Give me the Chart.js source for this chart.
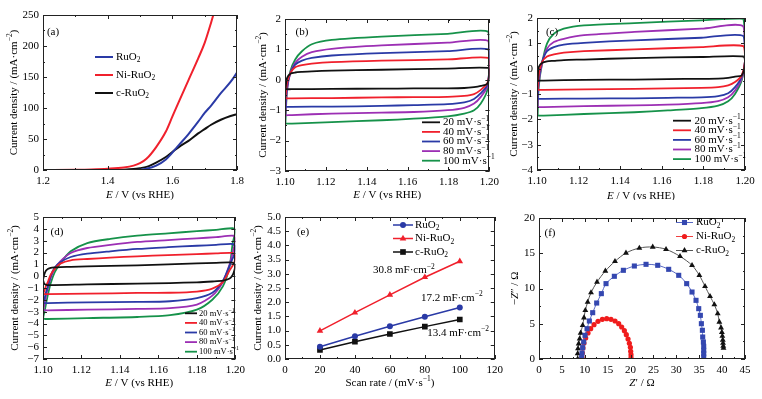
<!DOCTYPE html>
<html>
<head>
<meta charset="utf-8">
<script src="https://cdn.jsdelivr.net/npm/chart.js@4.4.1/dist/chart.umd.min.js"></script>
<style>
body { margin: 0; background: #fff; width: 762px; height: 399px; position: relative; overflow: hidden; }
canvas { position: absolute; }
</style>
</head>
<body>
<canvas id="ca" width="250" height="200" style="left:0;top:0"></canvas>
<canvas id="cb" width="254" height="200" style="left:250px;top:0"></canvas>
<canvas id="cc" width="262" height="200" style="left:500px;top:0"></canvas>
<canvas id="cd" width="250" height="199" style="left:0;top:200px"></canvas>
<canvas id="ce" width="258" height="199" style="left:250px;top:200px"></canvas>
<canvas id="cf" width="262" height="199" style="left:500px;top:200px"></canvas>
<script>
// (a) LSV curves
var aRuO2X = [1.2, 1.4, 1.48, 1.5, 1.52, 1.55, 1.58, 1.6, 1.62, 1.65, 1.68, 1.7, 1.72, 1.75, 1.78, 1.8];
var aRuO2Y = [0, 0, 0, 0.5, 2, 7, 17, 28, 40, 58, 78, 92, 104, 124, 142, 157];
var aNiX = [1.2, 1.3, 1.35, 1.4, 1.45, 1.48, 1.5, 1.52, 1.55, 1.58, 1.6, 1.62, 1.65, 1.68, 1.7, 1.72, 1.73];
var aNiY = [0, 0.5, 1, 2, 4, 7, 11, 18, 37, 62, 86, 110, 145, 180, 205, 238, 256];
var aCX = [1.2, 1.4, 1.45, 1.48, 1.5, 1.52, 1.55, 1.58, 1.6, 1.62, 1.65, 1.68, 1.7, 1.72, 1.75, 1.78, 1.8];
var aCY = [0, 0, 0.5, 1.5, 3, 5, 12, 21, 29, 37, 47, 59, 66, 73, 81, 87, 90];

// (b) CV loops
var bX = [1.1002, 1.101, 1.1026, 1.105, 1.1083, 1.1131, 1.1229, 1.1472, 1.1796, 1.1995, 1.2, 1.199, 1.1958, 1.1925, 1.1877, 1.1796, 1.163, 1.1472, 1.1229, 1.1034, 1.1002];
var b20 = [-0.31, 0.06, 0.2, 0.24, 0.26, 0.28, 0.3, 0.33, 0.37, 0.39, 0.2, -0.13, -0.2, -0.24, -0.27, -0.28, -0.285, -0.29, -0.3, -0.31, -0.31];
var b40 = [-0.61, -0.11, 0.22, 0.41, 0.48, 0.53, 0.58, 0.63, 0.67, 0.72, 0.3, -0.11, -0.33, -0.47, -0.53, -0.56, -0.57, -0.58, -0.6, -0.61, -0.61];
var b60 = [-0.89, -0.22, 0.22, 0.5, 0.63, 0.72, 0.8, 0.88, 0.94, 1.0, 0.4, -0.17, -0.44, -0.63, -0.74, -0.8, -0.83, -0.86, -0.88, -0.89, -0.89];
var b80 = [-1.17, -0.33, 0.22, 0.56, 0.76, 0.91, 1.02, 1.13, 1.22, 1.28, 0.5, -0.22, -0.56, -0.78, -0.92, -1.0, -1.06, -1.08, -1.11, -1.16, -1.17];
var b100 = [-1.44, -0.33, 0.28, 0.67, 0.94, 1.17, 1.31, 1.42, 1.51, 1.58, 0.6, -0.33, -0.78, -1.0, -1.11, -1.2, -1.28, -1.33, -1.39, -1.44, -1.44];

// (c) CV loops
var cX = [1.1003, 1.1008, 1.1024, 1.1048, 1.1081, 1.1129, 1.1226, 1.1468, 1.179, 1.1992, 1.2, 1.1984, 1.1952, 1.1919, 1.1871, 1.179, 1.1629, 1.1468, 1.1226, 1.1032, 1.1003];
var c20 = [-0.47, 0.06, 0.22, 0.29, 0.31, 0.34, 0.36, 0.42, 0.46, 0.48, 0.2, -0.27, -0.31, -0.36, -0.39, -0.4, -0.41, -0.43, -0.44, -0.47, -0.47];
var c40 = [-0.84, -0.27, 0.26, 0.48, 0.56, 0.63, 0.69, 0.76, 0.85, 0.89, 0.3, -0.27, -0.53, -0.66, -0.73, -0.76, -0.78, -0.8, -0.82, -0.84, -0.84];
var c60 = [-1.19, -0.47, 0.26, 0.69, 0.85, 0.95, 1.02, 1.12, 1.22, 1.29, 0.3, -0.33, -0.73, -0.97, -1.08, -1.13, -1.15, -1.17, -1.18, -1.19, -1.19];
var c80 = [-1.52, -0.6, 0.19, 0.79, 1.05, 1.18, 1.32, 1.45, 1.58, 1.67, 0.3, -0.4, -0.86, -1.13, -1.28, -1.36, -1.42, -1.45, -1.48, -1.52, -1.52];
var c100 = [-1.85, -0.73, 0.19, 0.99, 1.38, 1.58, 1.71, 1.8, 1.91, 1.97, 0.3, -0.47, -1.0, -1.29, -1.46, -1.56, -1.65, -1.72, -1.79, -1.85, -1.85];

// (d) CV loops
var dX = [1.1, 1.1008, 1.1015, 1.1025, 1.104, 1.106, 1.109, 1.1144, 1.123, 1.135, 1.149, 1.165, 1.18, 1.19, 1.1985, 1.2, 1.1995, 1.1986, 1.197, 1.1935, 1.188, 1.18, 1.166, 1.149, 1.123, 1.1024, 1.1007, 1.1];
var d20 = [-0.3, 0.2, 0.45, 0.6, 0.7, 0.74, 0.77, 0.79, 0.83, 0.87, 0.92, 1.0, 1.08, 1.13, 1.15, 0.9, 0.5, 0.1, -0.2, -0.38, -0.45, -0.52, -0.58, -0.63, -0.69, -0.75, -0.65, -0.3];
var d40 = [-1.51, -1.2, -0.85, -0.5, 0.13, 0.6, 1.06, 1.34, 1.45, 1.56, 1.68, 1.78, 1.87, 1.92, 1.96, 1.7, 1.2, 0.9, 0.5, -0.5, -1.05, -1.3, -1.4, -1.42, -1.48, -1.51, -1.51, -1.51];
var d60 = [-2.27, -1.9, -1.4, -0.9, 0.0, 0.7, 1.17, 1.62, 1.9, 2.1, 2.3, 2.45, 2.57, 2.65, 2.72, 2.5, 1.9, 1.5, 0.9, -0.4, -1.4, -1.85, -2.12, -2.18, -2.21, -2.27, -2.27, -2.27];
var d80 = [-2.85, -2.4, -1.7, -1.0, -0.15, 0.6, 1.25, 1.96, 2.38, 2.65, 2.89, 3.05, 3.2, 3.3, 3.42, 3.2, 2.6, 2.0, 1.0, -0.5, -1.65, -2.4, -2.7, -2.77, -2.83, -2.89, -2.88, -2.85];
var d100 = [-3.55, -3.0, -2.4, -1.6, -0.6, 0.3, 1.1, 2.1, 2.8, 3.15, 3.42, 3.62, 3.8, 3.92, 4.05, 3.9, 3.4, 2.8, 0.83, -0.86, -1.99, -2.83, -3.3, -3.45, -3.54, -3.62, -3.6, -3.55];

// (e) current density vs scan rate
var eRate = [20, 40, 60, 80, 100];
var eRuO2 = [0.43, 0.8, 1.15, 1.49, 1.81];
var eNi = [0.99, 1.63, 2.26, 2.88, 3.44];
var eC = [0.32, 0.61, 0.88, 1.14, 1.39];
var eNotes = ['30.8 mF·cm^{−2}', '17.2 mF·cm^{−2}', '13.4 mF·cm^{−2}'];

// (f) Nyquist plots
var fRuO2X = [9.32, 9.4, 9.54, 9.76, 10.05, 10.49, 11.0, 11.73, 12.6, 13.62, 14.64, 16.46, 18.43, 20.83, 23.38, 25.93, 28.33, 30.52, 32.26, 33.43, 34.3, 34.89, 35.25, 35.47, 35.69, 35.76, 35.91, 35.98, 35.98, 35.98, 35.98];
var fRuO2Y = [0.19, 0.85, 1.61, 2.41, 3.36, 4.3, 5.39, 6.57, 7.94, 9.27, 10.69, 11.73, 12.58, 13.19, 13.43, 13.29, 12.72, 11.87, 10.69, 9.5, 8.32, 7.14, 6.19, 5.01, 4.07, 3.12, 2.41, 1.8, 1.23, 0.76, 0.28];
var fNiX = [9.4, 9.47, 9.61, 9.83, 10.2, 10.71, 11.29, 12.02, 12.89, 13.84, 14.79, 15.73, 16.61, 17.41, 18.06, 18.65, 19.08, 19.45, 19.74, 19.96, 20.03, 20.1, 20.1];
var fNiY = [0.19, 0.85, 1.56, 2.27, 2.98, 3.69, 4.3, 4.87, 5.34, 5.63, 5.72, 5.63, 5.39, 5.01, 4.54, 4.02, 3.45, 2.84, 2.22, 1.65, 1.09, 0.61, 0.19];
var fCX = [8.45, 8.45, 8.52, 8.67, 8.89, 9.1, 9.54, 9.83, 10.12, 10.63, 11.36, 12.67, 14.49, 16.6, 19.0, 21.92, 24.84, 27.75, 30.81, 33.43, 35.03, 36.27, 37.36, 38.31, 39.04, 39.4, 39.77, 39.95, 40.05, 40.15, 40.2, 40.25, 40.3];
var fCY = [0, 0.76, 1.47, 2.17, 2.88, 3.69, 4.78, 5.86, 6.9, 8.08, 9.41, 10.92, 12.48, 13.85, 15.04, 15.74, 15.89, 15.56, 14.56, 13.29, 11.87, 10.31, 8.89, 7.71, 6.43, 5.25, 4.44, 3.8, 3.25, 2.7, 2.25, 1.85, 1.55];

var rateLabels = ['20 mV·s^{−1}', '40 mV·s^{−1}', '60 mV·s^{−1}', '80 mV·s^{−1}', '100 mV·s^{−1}'];

var SERIF = '"Liberation Serif", "DejaVu Serif", serif';
var BLACK = '#111111', RED = '#f0202c', BLUE = '#2a3aa6', PURPLE = '#9c2fb4', GREEN = '#16924a';
Chart.defaults.font.family = SERIF;
Chart.defaults.color = '#000';

function pts(xs, ys) {
    return xs.map(function (x, i) { return {x: x, y: ys[i]}; });
}

// tiny markup: _{sub} ^{sup} *italic*
function parseRich(str) {
    var parts = [];
    var re = /_\{([^}]*)\}|\^\{([^}]*)\}|\*([^*]*)\*|([^_^*]+)/g;
    var m;
    while ((m = re.exec(str))) {
        if (m[1] !== undefined) parts.push({t: m[1], s: 'sub'});
        else if (m[2] !== undefined) parts.push({t: m[2], s: 'sup'});
        else if (m[3] !== undefined) parts.push({t: m[3], s: 'i'});
        else parts.push({t: m[4], s: ''});
    }
    return parts;
}

function drawRich(ctx, str, x, y, size, align) {
    var parts = parseRich(str);
    var fontFor = function (p) {
        var small = p.s === 'sub' || p.s === 'sup';
        return (p.s === 'i' ? 'italic ' : '') + (small ? size * 0.68 : size) + 'px ' + SERIF;
    };
    var w = 0;
    parts.forEach(function (p) { ctx.font = fontFor(p); p.w = ctx.measureText(p.t).width; w += p.w; });
    var cx = align === 'center' ? x - w / 2 : (align === 'right' ? x - w : x);
    ctx.textAlign = 'left';
    ctx.textBaseline = 'middle';
    parts.forEach(function (p) {
        ctx.font = fontFor(p);
        var dy = p.s === 'sub' ? size * 0.28 : (p.s === 'sup' ? -size * 0.32 : 0);
        ctx.fillText(p.t, cx, y + dy);
        cx += p.w;
    });
}

function marker(ctx, style, x, y, r, color) {
    ctx.fillStyle = color;
    ctx.beginPath();
    if (style === 'rect') {
        var h = r * Math.SQRT1_2;
        ctx.rect(x - h, y - h, 2 * h, 2 * h);
    } else if (style === 'triangle') {
        ctx.moveTo(x, y - r);
        ctx.lineTo(x + r * 0.866, y + r * 0.5);
        ctx.lineTo(x - r * 0.866, y + r * 0.5);
        ctx.closePath();
    } else {
        ctx.arc(x, y, r, 0, Math.PI * 2);
    }
    ctx.fill();
}

function axisTicks(ctx, a, scale, vals, len, isX) {
    ctx.beginPath();
    vals.forEach(function (v) {
        var p = Math.round(scale.getPixelForValue(v)) + 0.5;
        if (isX) {
            ctx.moveTo(p, a.bottom); ctx.lineTo(p, a.bottom - len);
            ctx.moveTo(p, a.top); ctx.lineTo(p, a.top + len);
        } else {
            ctx.moveTo(a.left, p); ctx.lineTo(a.left + len, p);
            ctx.moveTo(a.right, p); ctx.lineTo(a.right - len, p);
        }
    });
    ctx.stroke();
}

function minorVals(scale, step) {
    var out = [];
    if (!step) return out;
    var n = Math.round((scale.max - scale.min) / step);
    for (var i = 0; i <= n; i++) out.push(scale.min + i * step);
    return out;
}

// frame, inward ticks, titles, legend, notes
var decoPlugin = {
    id: 'deco',
    afterDraw: function (chart, args, o) {
        var ctx = chart.ctx, a = chart.chartArea, sx = chart.scales.x, sy = chart.scales.y;
        ctx.save();
        ctx.strokeStyle = '#222';
        ctx.fillStyle = '#000';
        ctx.lineWidth = 1;
        ctx.strokeRect(Math.round(a.left) + 0.5, Math.round(a.top) + 0.5, Math.round(a.width) - 1, Math.round(a.height) - 1);
        axisTicks(ctx, a, sx, sx.ticks.map(function (t) { return t.value; }), 4, true);
        axisTicks(ctx, a, sy, sy.ticks.map(function (t) { return t.value; }), 4, false);
        axisTicks(ctx, a, sx, minorVals(sx, o.xMinor), 2, true);
        axisTicks(ctx, a, sy, minorVals(sy, o.yMinor), 2, false);

        drawRich(ctx, o.xTitle, (a.left + a.right) / 2, o.xTitleY, 11, 'center');
        ctx.save();
        ctx.translate(o.yTitleX, (a.top + a.bottom) / 2);
        ctx.rotate(-Math.PI / 2);
        drawRich(ctx, o.yTitle, 0, 0, 11, 'center');
        ctx.restore();
        drawRich(ctx, o.letter, o.letterPos[0], o.letterPos[1], 11, 'center');

        var L = o.legend;
        chart.data.datasets.forEach(function (ds, i) {
            var yy = L.y + i * L.dy;
            ctx.strokeStyle = ds.borderColor;
            ctx.lineWidth = L.lw;
            ctx.beginPath();
            ctx.moveTo(L.x, yy);
            ctx.lineTo(L.x + L.len, yy);
            ctx.stroke();
            if (ds.pointRadius) marker(ctx, ds.pointStyle, L.x + L.len / 2, yy, ds.pointRadius, ds.pointBackgroundColor);
            ctx.fillStyle = '#000';
            drawRich(ctx, ds.label, L.x + L.len + L.gap, yy, L.size, 'left');
        });

        (o.notes || []).forEach(function (n) {
            drawRich(ctx, n.text, sx.getPixelForValue(n.x), sy.getPixelForValue(n.y), 11, 'center');
        });
        ctx.restore();
    }
};

function axis(ax, size, isX) {
    return {
        type: 'linear',
        min: ax.min,
        max: ax.max,
        afterFit: function (s) { if (isX) s.height = size; else s.width = size; },
        grid: {display: false, drawTicks: false},
        border: {display: false},
        ticks: {
            stepSize: ax.step,
            autoSkip: false,
            maxRotation: 0,
            padding: isX ? 5 : 4,
            color: '#000',
            font: {size: 11, family: SERIF},
            callback: function (v) { return Number(v).toFixed(ax.dec).replace('-', '\u2212'); }
        }
    };
}

function makeChart(id, area, xAx, yAx, datasets, deco) {
    var cv = document.getElementById(id);
    return new Chart(cv, {
        type: 'scatter',
        data: {datasets: datasets},
        options: {
            responsive: false,
            animation: false,
            devicePixelRatio: 1,
            layout: {padding: {left: 0, top: area.top, right: cv.width - area.right, bottom: 0}},
            plugins: {legend: {display: false}, tooltip: {enabled: false}, deco: deco},
            scales: {x: axis(xAx, cv.height - area.bottom, true), y: axis(yAx, area.left, false)}
        },
        plugins: [decoPlugin]
    });
}

function curve(label, color, xs, ys, extra) {
    return Object.assign({
        label: label, data: pts(xs, ys), borderColor: color, backgroundColor: color,
        borderWidth: 1.8, pointRadius: 0, showLine: true, tension: 0.25
    }, extra || {});
}

function cvSets(xs, series) {
    var colors = [BLACK, RED, BLUE, PURPLE, GREEN];
    return series.map(function (ys, i) { return curve(rateLabels[i], colors[i], xs, ys); });
}

var yTitleJ = 'Current density / (mA·cm^{−2})';
var xTitleE = '*E* / V (vs RHE)';
var cvX = {min: 1.1, max: 1.2, step: 0.02, dec: 2};

// (a)
var mono = {cubicInterpolationMode: 'monotone', borderWidth: 2};
makeChart('ca', {left: 43, top: 15, right: 237, bottom: 170},
    {min: 1.2, max: 1.8, step: 0.2, dec: 1}, {min: 0, max: 250, step: 50, dec: 0},
    [curve('RuO_{2}', BLUE, aRuO2X, aRuO2Y, mono),
     curve('Ni-RuO_{2}', RED, aNiX, aNiY, mono),
     curve('c-RuO_{2}', BLACK, aCX, aCY, mono)],
    {xTitle: xTitleE, xTitleY: 195, yTitle: yTitleJ, yTitleX: 14, letter: '(a)', letterPos: [53, 32],
     xMinor: 0.1, yMinor: 25, legend: {x: 95, y: 57, dy: 18, len: 18, gap: 3, size: 11, lw: 2}});

// (b)
makeChart('cb', {left: 35, top: 19, right: 241, bottom: 171},
    cvX, {min: -3, max: 2, step: 1, dec: 0},
    cvSets(bX, [b20, b40, b60, b80, b100]),
    {xTitle: xTitleE, xTitleY: 195, yTitle: yTitleJ, yTitleX: 13, letter: '(b)', letterPos: [52, 32],
     xMinor: 0.01, yMinor: 0.5, legend: {x: 172, y: 122.3, dy: 9.6, len: 18, gap: 3, size: 11, lw: 1.8}});

// (c)
makeChart('cc', {left: 37, top: 18, right: 245, bottom: 170},
    cvX, {min: -4, max: 2, step: 1, dec: 0},
    cvSets(cX, [c20, c40, c60, c80, c100]),
    {xTitle: xTitleE, xTitleY: 196, yTitle: yTitleJ, yTitleX: 14, letter: '(c)', letterPos: [52, 32],
     xMinor: 0.01, yMinor: 0.5, legend: {x: 173, y: 120.7, dy: 9.6, len: 18, gap: 3.5, size: 11, lw: 1.8}});

// (d)
makeChart('cd', {left: 43, top: 17, right: 238, bottom: 159},
    cvX, {min: -7, max: 5, step: 1, dec: 0},
    cvSets(dX, [d20, d40, d60, d80, d100]),
    {xTitle: xTitleE, xTitleY: 183, yTitle: yTitleJ, yTitleX: 15, letter: '(d)', letterPos: [57, 32],
     xMinor: 0.01, yMinor: 0, legend: {x: 185, y: 113.3, dy: 9.6, len: 12, gap: 2, size: 8.5, lw: 1.8}});

// (e)
var eLine = {borderWidth: 1.5, tension: 0, pointBorderWidth: 0};
makeChart('ce', {left: 35, top: 17, right: 247, bottom: 159},
    {min: 0, max: 120, step: 20, dec: 0}, {min: 0, max: 5, step: 0.5, dec: 1},
    [curve('RuO_{2}', BLUE, eRate, eRuO2, Object.assign({pointRadius: 3, pointStyle: 'circle', pointBackgroundColor: BLUE}, eLine)),
     curve('Ni-RuO_{2}', RED, eRate, eNi, Object.assign({pointRadius: 3.8, pointStyle: 'triangle', pointBackgroundColor: RED}, eLine)),
     curve('c-RuO_{2}', BLACK, eRate, eC, Object.assign({pointRadius: 4, pointStyle: 'rect', pointBackgroundColor: BLACK}, eLine))],
    {xTitle: 'Scan rate / (mV·s^{−1})', xTitleY: 183, yTitle: yTitleJ, yTitleX: 8, letter: '(e)', letterPos: [53, 32],
     xMinor: 10, yMinor: 0, legend: {x: 143, y: 25, dy: 13.5, len: 20, gap: 2, size: 11, lw: 1.5},
     notes: [{text: eNotes[0], x: 68, y: 3.13}, {text: eNotes[1], x: 95.4, y: 2.15}, {text: eNotes[2], x: 99, y: 0.92}]});

// (f)
var fLine = {borderWidth: 1, tension: 0.3, pointBorderWidth: 0};
makeChart('cf', {left: 39, top: 18, right: 245, bottom: 159},
    {min: 0, max: 45, step: 5, dec: 0}, {min: 0, max: 20, step: 5, dec: 0},
    [curve('RuO_{2}', '#5667c4', fRuO2X, fRuO2Y, Object.assign({pointRadius: 3.6, pointStyle: 'rect', pointBackgroundColor: '#3447b0'}, fLine)),
     curve('Ni-RuO_{2}', '#f04040', fNiX, fNiY, Object.assign({pointRadius: 2.6, pointStyle: 'circle', pointBackgroundColor: '#f01c1c'}, fLine)),
     curve('c-RuO_{2}', '#555555', fCX, fCY, Object.assign({pointRadius: 3.4, pointStyle: 'triangle', pointBackgroundColor: '#111111'}, fLine))],
    {xTitle: '*Z*′ / Ω', xTitleY: 183, yTitle: '−*Z*″ / Ω', yTitleX: 15, letter: '(f)', letterPos: [50, 33],
     xMinor: 2.5, yMinor: 2.5, legend: {x: 176, y: 22.5, dy: 14, len: 17, gap: 3, size: 11, lw: 1}});
</script>
</body>
</html>
